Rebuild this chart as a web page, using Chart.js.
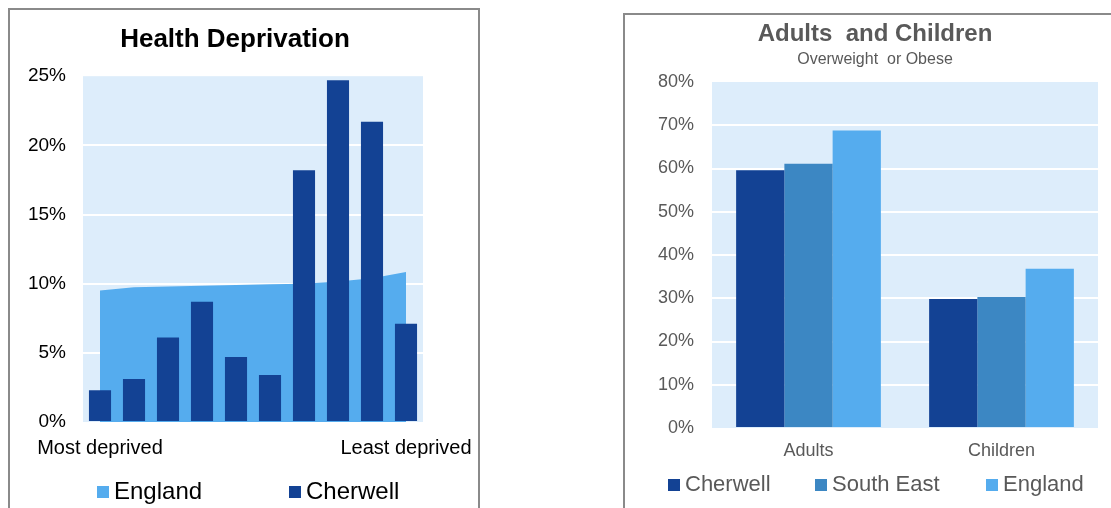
<!DOCTYPE html>
<html lang="en">
<head>
<meta charset="UTF-8">
<title>Health Deprivation / Adults and Children</title>
<script src="https://cdn.jsdelivr.net/npm/chart.js"></script>
<style>
  html, body { margin: 0; padding: 0; background: #fff; overflow: hidden; width: 1111px; height: 508px; }
  .box { position: absolute; border: 2px solid #8a8a8a; background: #fff; }
  #leftBox { left: 8px; top: 8px; width: 468px; height: 498px; }
  #rightBox { left: 623px; top: 13px; width: 500px; height: 500px; }
</style>
</head>
<body>
<div class="box" id="leftBox"><canvas id="deprivation"></canvas></div>
<div class="box" id="rightBox"><canvas id="obesity"></canvas></div>

<script>
// --- data: health deprivation by decile (%)
const deciles = ['1', '2', '3', '4', '5', '6', '7', '8', '9', '10'];
const decileEnds = ['Most deprived', 'Least deprived'];
const englandDeprivation = [9.5, 9.75, 9.8, 9.85, 9.9, 9.95, 10.0, 10.15, 10.4, 10.85];
const cherwellDeprivation = [2.3, 3.1, 6.1, 8.7, 4.7, 3.4, 18.2, 24.7, 21.7, 7.1];

// --- data: overweight or obese (%)
const groups = ['Adults', 'Children'];
const cherwellObese = [59.6, 29.8];
const southEastObese = [61.1, 30.3];
const englandObese = [68.8, 36.8];

const DARK = '#134294', MID = '#3c87c3', LIGHT = '#55acee';
Chart.defaults.font.family = 'Arial, "Liberation Sans", sans-serif';
Chart.defaults.animation = false;

// light blue plot area
const plotBackground = {
  id: 'plotBackground',
  beforeDraw(chart, args, opts) {
    const { ctx, chartArea: a } = chart;
    ctx.save();
    ctx.fillStyle = opts.color;
    ctx.fillRect(a.left, a.top, a.width, a.height);
    ctx.restore();
  }
};

// small square legend, one entry per dataset
const boxLegend = {
  id: 'boxLegend',
  afterDraw(chart, args, opts) {
    const ctx = chart.ctx;
    ctx.save();
    ctx.font = opts.font;
    ctx.textBaseline = 'middle';
    ctx.textAlign = 'left';
    chart.data.datasets.forEach((ds, i) => {
      const x = opts.x[i];
      ctx.fillStyle = ds.backgroundColor;
      ctx.fillRect(x, opts.y - 6, 12, 12);
      ctx.fillStyle = opts.color;
      ctx.fillText(ds.label, x + 17, opts.y);
    });
    ctx.restore();
  }
};

const hideEdgeGrid = (c) => (c.index === 0 || c.index === c.scale.ticks.length - 1) ? 'rgba(0,0,0,0)' : '#ffffff';

new Chart(document.getElementById('deprivation'), {
  data: {
    labels: deciles,
    datasets: [
      {
        type: 'line',
        label: 'England',
        data: englandDeprivation,
        backgroundColor: LIGHT,
        borderColor: 'rgba(0,0,0,0)',
        borderWidth: 0,
        pointRadius: 0,
        fill: 'origin',
        order: 1
      },
      {
        type: 'bar',
        label: 'Cherwell',
        data: cherwellDeprivation,
        backgroundColor: DARK,
        categoryPercentage: 0.65,
        barPercentage: 1,
        order: 0
      }
    ]
  },
  options: {
    responsive: true,
    maintainAspectRatio: false,
    layout: { padding: { top: 0, left: 0, right: 18, bottom: 40 } },
    scales: {
      x: {
        grid: { display: false, drawTicks: true, tickLength: 14 },
        border: { display: false },
        ticks: {
          autoSkip: false,
          minRotation: 0,
          maxRotation: 0,
          padding: 0,
          color: '#000',
          font: { size: 20 },
          callback: (v, i, all) => i === 0 ? decileEnds[0] : (i === all.length - 1 ? decileEnds[1] : '')
        },
        afterFit: (s) => { s.height = 46; }
      },
      y: {
        min: 0,
        max: 25,
        grid: { color: hideEdgeGrid, lineWidth: 2, drawTicks: false },
        border: { display: false },
        ticks: { stepSize: 5, padding: 17, color: '#000', font: { size: 19 }, callback: (v) => v + '%' },
        afterFit: (s) => { s.width = 73; }
      },
      yRight: {
        type: 'linear',
        position: 'right',
        grid: { display: false },
        border: { display: false },
        ticks: { display: false },
        afterFit: (s) => { s.width = 37; }
      }
    },
    plugins: {
      legend: { display: false },
      tooltip: { enabled: false },
      title: {
        display: true,
        text: 'Health Deprivation',
        color: '#000',
        font: { size: 26, weight: 'bold' },
        padding: { top: 14, bottom: 21 }
      },
      plotBackground: { color: '#ddedfb' },
      boxLegend: { x: [87, 279], y: 482, font: '24px Arial, "Liberation Sans", sans-serif', color: '#000' }
    }
  },
  plugins: [plotBackground, boxLegend]
});

new Chart(document.getElementById('obesity'), {
  type: 'bar',
  data: {
    labels: groups,
    datasets: [
      { label: 'Cherwell', data: cherwellObese, backgroundColor: DARK },
      { label: 'South East', data: southEastObese, backgroundColor: MID },
      { label: 'England', data: englandObese, backgroundColor: LIGHT }
    ]
  },
  options: {
    responsive: true,
    maintainAspectRatio: false,
    datasets: { bar: { categoryPercentage: 0.75, barPercentage: 1 } },
    layout: { padding: { top: 0, left: 0, right: 0, bottom: 40 } },
    scales: {
      x: {
        grid: { display: false },
        border: { display: false },
        ticks: { padding: 4, color: '#595959', font: { size: 18 } },
        afterFit: (s) => { s.height = 47; }
      },
      y: {
        min: 0,
        max: 80,
        grid: { color: hideEdgeGrid, lineWidth: 2, drawTicks: false },
        border: { display: false },
        ticks: { stepSize: 10, padding: 18, color: '#595959', font: { size: 18 }, callback: (v) => v + '%' },
        afterFit: (s) => { s.width = 87; }
      },
      yRight: {
        type: 'linear',
        position: 'right',
        grid: { display: false },
        border: { display: false },
        ticks: { display: false },
        afterFit: (s) => { s.width = 27; }
      }
    },
    plugins: {
      legend: { display: false },
      tooltip: { enabled: false },
      title: {
        display: true,
        text: 'Adults  and Children',
        color: '#595959',
        font: { size: 24, weight: 'bold' },
        padding: { top: 5, bottom: 0 }
      },
      subtitle: {
        display: true,
        text: 'Overweight  or Obese',
        color: '#595959',
        font: { size: 16 },
        padding: { top: 1, bottom: 13 }
      },
      plotBackground: { color: '#ddedfb' },
      boxLegend: { x: [43, 190, 361], y: 470, font: '22px Arial, "Liberation Sans", sans-serif', color: '#595959' }
    }
  },
  plugins: [plotBackground, boxLegend]
});
</script>
</body>
</html>
